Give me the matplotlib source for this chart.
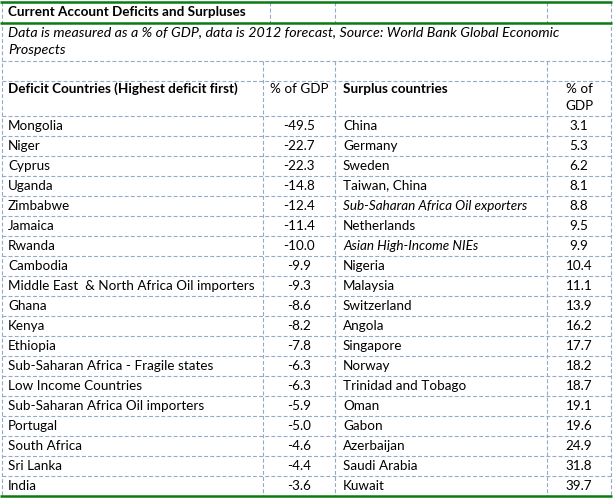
import matplotlib.pyplot as plt

# ---- table content ----
title = "Current Account Deficits and Surpluses"
subtitle = ["Data is measured as a % of GDP, data is 2012 forecast, Source: World Bank Global Economic",
            "Prospects"]

deficit_countries = [
    "Mongolia", "Niger", "Cyprus", "Uganda", "Zimbabwe", "Jamaica", "Rwanda",
    "Cambodia", "Middle East  & North Africa Oil importers", "Ghana", "Kenya",
    "Ethiopia", "Sub-Saharan Africa - Fragile states", "Low Income Countries",
    "Sub-Saharan Africa Oil importers", "Portugal", "South Africa", "Sri Lanka",
    "India",
]
deficit_values = [-49.5, -22.7, -22.3, -14.8, -12.4, -11.4, -10.0, -9.9, -9.3,
                  -8.6, -8.2, -7.8, -6.3, -6.3, -5.9, -5.0, -4.6, -4.4, -3.6]

surplus_countries = [
    "China", "Germany", "Sweden", "Taiwan, China",
    "Sub-Saharan Africa Oil exporters", "Netherlands", "Asian High-Income NIEs",
    "Nigeria", "Malaysia", "Switzerland", "Angola", "Singapore", "Norway",
    "Trinidad and Tobago", "Oman", "Gabon", "Azerbaijan", "Saudi Arabia", "Kuwait",
]
surplus_values = [3.1, 5.3, 6.2, 8.1, 8.8, 9.5, 9.9, 10.4, 11.1, 13.9, 16.2,
                  17.7, 18.2, 18.7, 19.1, 19.6, 24.9, 31.8, 39.7]
surplus_italic = {"Sub-Saharan Africa Oil exporters", "Asian High-Income NIEs"}

# ---- layout (pixel units) ----
W, H = 615, 500
FONT = "Lato"
FS = 9.7
GRID = "#94a8c8"
GREEN = "#0b7a12"
DASH = (0, (3.5, 2))

x_left, x_c1, x_c2, x_c3, x_right = 1.5, 263, 335, 547, 611
y_top, y_title, y_sub, y_blank, y_data = 2, 23, 61, 81, 116
row_h = 20
n = len(deficit_countries)
y_bottom = y_data + n * row_h

fig = plt.figure(figsize=(W / 100, H / 100), dpi=100)
ax = fig.add_axes([0, 0, 1, 1])
ax.set_xlim(0, W)
ax.set_ylim(H, 0)
ax.axis("off")


def hline(y, x0=x_left, x1=x_right):
    ax.plot([x0, x1], [y, y], color=GRID, lw=0.8, ls=DASH)


def vline(x, y0, y1):
    ax.plot([x, x], [y0, y1], color=GRID, lw=0.8, ls=DASH)


# outer verticals
vline(x_left, y_top, y_bottom)
vline(x_right, y_top, y_bottom)
# title row dividers
for x in (270, x_c2, x_c3):
    vline(x, y_top, y_title)
# column dividers below subtitle
for x in (x_c1, x_c2, x_c3):
    vline(x, y_sub, y_bottom)
# horizontal rules
hline(y_sub)
hline(y_blank)
for i in range(n):
    hline(y_data + i * row_h)

# green borders
for y in (y_top, y_title, y_bottom):
    ax.plot([0, 612], [y, y], color=GREEN, lw=1.8, solid_capstyle="butt")

txt = dict(fontsize=FS, family=FONT, color="black", va="baseline")

ax.text(8, 16.5, title, fontweight="bold", **txt)
sub = dict(txt, fontsize=10.25)
ax.text(8, 36, subtitle[0], style="italic", **sub)
ax.text(8, 54, subtitle[1], style="italic", **sub)

ax.text(8, 93, "Deficit Countries (Highest deficit first)", fontweight="bold", **txt)
ax.text((x_c1 + x_c2) / 2, 93, "% of GDP", ha="center", **txt)
ax.text(343, 93, "Surplus countries", fontweight="bold", **txt)
ax.text((x_c3 + x_right) / 2, 93, "% of", ha="center", **txt)
ax.text((x_c3 + x_right) / 2, 110, "GDP", ha="center", **txt)

for i in range(n):
    yb = y_data + i * row_h + 13.5
    ax.text(8, yb, deficit_countries[i], **txt)
    ax.text((x_c1 + x_c2) / 2, yb, f"{deficit_values[i]:.1f}", ha="center", **txt)
    name = surplus_countries[i]
    ax.text(343, yb, name, style="italic" if name in surplus_italic else "normal", **txt)
    ax.text((x_c3 + x_right) / 2, yb, f"{surplus_values[i]:.1f}", ha="center", **txt)

fig.savefig("out.png", dpi=100, facecolor="white")
